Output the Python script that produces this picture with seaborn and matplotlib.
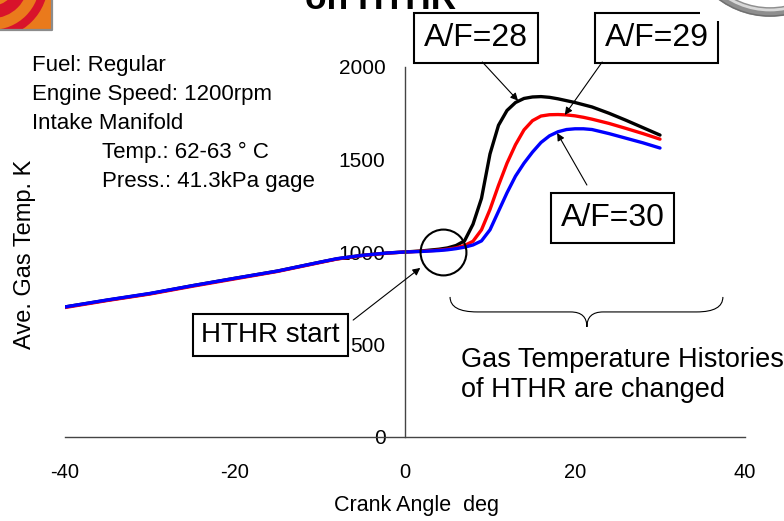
import matplotlib
matplotlib.use("Agg")
import matplotlib.pyplot as plt
import pandas as pd
import seaborn as sns
from matplotlib.path import Path
from matplotlib.patches import PathPatch, Rectangle, Circle

# ---- data -------------------------------------------------------------
crank_angle = [-40, -35, -30, -25, -20, -15, -10, -8, -5, -2, 0, 2, 4, 5, 6, 7, 8, 9,
               10, 11, 12, 13, 14, 15, 16, 17, 18, 19, 20, 21, 22, 24, 26, 28, 30]
temp_af28 = [703, 740, 775, 818, 858, 897, 945, 963, 982, 995, 1000, 1006, 1015, 1022,
             1035, 1060, 1150, 1290, 1530, 1685, 1765, 1808, 1830, 1838, 1840, 1836,
             1828, 1818, 1808, 1796, 1784, 1750, 1712, 1672, 1632]
temp_af29 = [700, 738, 773, 815, 855, 895, 943, 962, 981, 994, 1000, 1004, 1010, 1015,
             1022, 1035, 1058, 1120, 1230, 1360, 1480, 1580, 1660, 1710, 1735, 1742,
             1743, 1741, 1736, 1728, 1718, 1695, 1668, 1640, 1610]
temp_af30 = [703, 741, 776, 818, 858, 897, 945, 964, 982, 995, 1000, 1003, 1008, 1012,
             1018, 1026, 1038, 1060, 1120, 1220, 1320, 1410, 1480, 1540, 1592, 1628,
             1650, 1662, 1666, 1666, 1662, 1640, 1615, 1590, 1562]
series_labels = ["A/F=28", "A/F=29", "A/F=30"]
series_colors = ["#000000", "#ff0000", "#0000ff"]
x_ticks = [-40, -20, 0, 20, 40]
y_ticks = [0, 500, 1000, 1500, 2000]

info_lines = ["Fuel: Regular", "Engine Speed: 1200rpm", "Intake Manifold",
              "Temp.: 62-63 \u00b0 C", "Press.: 41.3kPa gage"]

# ---- style ------------------------------------------------------------
sns.set_theme(style="white")
plt.rcParams["font.family"] = ["Liberation Sans", "DejaVu Sans"]
plt.rcParams["text.color"] = "black"
AXIS_GREY = "#444444"

W, H = 784, 521
fig = plt.figure(figsize=(W / 100, H / 100), dpi=100)
fig.patch.set_facecolor("white")

ax = fig.add_axes([65 / W, 1 - 437 / H, 680 / W, 370 / H])
ax.set_facecolor("none")

frames = []
for label, values in zip(series_labels, [temp_af28, temp_af29, temp_af30]):
    frames.append(pd.DataFrame({"angle": crank_angle, "temp": values, "series": label}))
df = pd.concat(frames, ignore_index=True)

sns.lineplot(data=df, x="angle", y="temp", hue="series", hue_order=series_labels,
             palette=dict(zip(series_labels, series_colors)), estimator=None,
             linewidth=2.4, legend=False, ax=ax)

ax.set_xlim(-40, 40)
ax.set_ylim(0, 2000)
ax.set_xlabel("")
ax.set_ylabel("")
for side in ("top", "right"):
    ax.spines[side].set_visible(False)
ax.spines["left"].set_position(("data", 0))
for side in ("left", "bottom"):
    ax.spines[side].set_color(AXIS_GREY)
    ax.spines[side].set_linewidth(1.0)

ax.set_xticks(x_ticks, labels=[str(v) for v in x_ticks])
ax.set_yticks(y_ticks, labels=[str(v) for v in y_ticks])
ax.tick_params(axis="x", direction="in", length=6, width=1, color=AXIS_GREY,
               pad=19, labelsize=14.5, labelcolor="black")
ax.tick_params(axis="y", direction="in", length=6, width=1, color=AXIS_GREY,
               pad=14, labelsize=15, labelcolor="black")

# ---- call-outs --------------------------------------------------------
box_kw = dict(boxstyle="square,pad=0.3", fc="white", ec="black", lw=1.5)
arrow_kw = dict(arrowstyle="-|>", color="black", lw=0.8, mutation_scale=11,
                shrinkA=0, shrinkB=0)

callouts = [
    # text, box centre, arrow start, arrow tip, font size
    ("A/F=28", (8.35, 2157), (9.1, 2027), (13.3, 1818), 23),
    ("A/F=29", (29.6, 2157), (23.2, 2027), (18.8, 1741), 23),
    ("A/F=30", (24.4, 1184), (21.4, 1362), (17.9, 1643), 23),
    ("HTHR start", (-15.8, 551), (-6.1, 632), (1.8, 914), 20),
]
for text, centre, start, tip, size in callouts:
    ax.text(*centre, text, ha="center", va="center", fontsize=size, bbox=box_kw,
            zorder=5, clip_on=False)
    ax.annotate("", xy=tip, xytext=start, arrowprops=arrow_kw,
                annotation_clip=False, zorder=6)

# ring marking where the high-temperature heat release starts
ax.plot([4.5], [1000], marker="o", ms=33, mfc="none", mec="black", mew=1.5,
        clip_on=False, zorder=6)

# curly brace over the post-ignition part of the curves
brace = Path(
    [(5.3, 757), (5.3, 676), (8.5, 676), (19.5, 676), (21.4, 676), (21.4, 595),
     (21.4, 676), (23.3, 676), (34.3, 676), (37.4, 676), (37.4, 757)],
    [Path.MOVETO, Path.CURVE3, Path.CURVE3, Path.LINETO, Path.CURVE3, Path.CURVE3,
     Path.CURVE3, Path.CURVE3, Path.LINETO, Path.CURVE3, Path.CURVE3])
ax.add_patch(PathPatch(brace, fc="none", ec="black", lw=0.8, clip_on=False))
ax.text(6.6, 378, "Gas Temperature Histories", fontsize=19.5, va="baseline")
ax.text(6.6, 216, "of HTHR are changed", fontsize=19.5, va="baseline")

# ---- slide furniture (pixel coordinates) -------------------------------
deco = fig.add_axes([0, 0, 1, 1])
deco.set_xlim(0, W)
deco.set_ylim(H, 0)
deco.axis("off")
deco.patch.set_alpha(0)

for i, line in enumerate(info_lines):
    x0 = 32 if i < 3 else 102
    deco.text(x0, 71 + 29 * i, line, fontsize=16, va="baseline", ha="left")

deco.text(25, 254, "Ave. Gas Temp. K", rotation=90, fontsize=17,
          ha="center", va="center")
deco.text(417, 506, "Crank Angle  deg", fontsize=15.5, ha="center", va="center")

# title line, mostly above the visible area
deco.text(305, 9, "on HTHR", fontsize=25.5, fontweight="bold",
          ha="left", va="baseline")

# logo tile in the upper-left corner
logo = Rectangle((0, 0), 52, 29, fc="#ea7a1c", ec="none", zorder=1)
deco.add_patch(logo)
for r, lw in [(30, 9), (52, 6)]:
    band = Circle((-8, -18), r, fc="none", ec="#d8132b", lw=lw, zorder=2)
    deco.add_patch(band)
    band.set_clip_path(logo)
deco.plot([52.5, 52.5, 0], [0, 29.5, 29.5], color="#8c8c8c", lw=1.6,
          solid_capstyle="butt", zorder=3)

# metallic ring in the upper-right corner
deco.add_patch(Rectangle((700, 0), 84, 21, fc="white", ec="none", zorder=1))
deco.add_patch(Circle((770, -70), 82, fc="none", ec="#8f8f8f", lw=7, zorder=2))
deco.add_patch(Circle((770, -70), 80, fc="none", ec="#d9d9d9", lw=2, zorder=3))
deco.add_patch(Circle((770, -70), 86, fc="none", ec="#6f6f6f", lw=1, zorder=3))

fig.savefig("out.png", dpi=100)
